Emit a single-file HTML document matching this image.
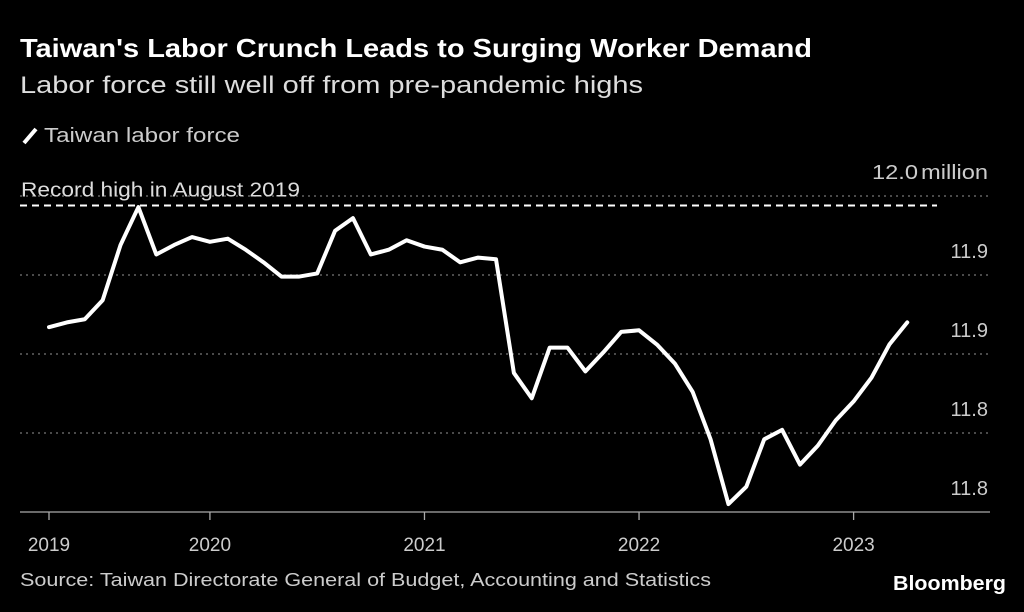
<!DOCTYPE html>
<html><head><meta charset="utf-8"><style>
body{margin:0;background:#000;width:1024px;height:612px;overflow:hidden;font-family:"Liberation Sans",sans-serif;color:#fff}
svg{position:absolute;left:0;top:0}
</style></head><body>
<svg width="1024" height="612">
<text x="20" y="57" font-size="26" font-weight="bold" fill="#fff" textLength="792" lengthAdjust="spacingAndGlyphs">Taiwan's Labor Crunch Leads to Surging Worker Demand</text>
<text x="20" y="93" font-size="24" fill="#ddd" textLength="623" lengthAdjust="spacingAndGlyphs">Labor force still well off from pre-pandemic highs</text>
<line x1="24" y1="143" x2="36" y2="129" stroke="#fff" stroke-width="4"/>
<text x="44" y="142" font-size="20" fill="#ccc" textLength="196" lengthAdjust="spacingAndGlyphs">Taiwan labor force</text>
<g id="grid"></g>
<g id="plot"></g>
<text x="20" y="586" font-size="18" fill="#ccc" textLength="691" lengthAdjust="spacingAndGlyphs">Source: Taiwan Directorate General of Budget, Accounting and Statistics</text>
<text x="893" y="590" font-size="20" font-weight="bold" fill="#fff" textLength="113" lengthAdjust="spacingAndGlyphs">Bloomberg</text>
</svg>
<script>
const values=[11.917,11.920,11.922,11.934,11.969,11.993,11.963,11.969,11.974,11.971,11.973,11.966,11.958,11.949,11.949,11.951,11.978,11.986,11.963,11.966,11.972,11.968,11.966,11.958,11.961,11.960,
11.888,11.872,11.904,11.904,11.889,11.901,11.914,11.915,11.906,11.894,11.876,11.846,11.805,11.816,11.846,11.852,11.830,11.842,11.858,11.870,11.885,11.906,11.920];
const yTickValues=[12.0,11.95,11.9,11.85,11.8];
const yTickLabels=["12.0 million","11.9","11.9","11.8","11.8"];
const xTickIndex=[0,9,21,33,45];
const xTickLabels=["2019","2020","2021","2022","2023"];
const recordValue=11.994;
const NS="http://www.w3.org/2000/svg";
const X=i=>49+i*17.88;
const Y=v=>512-(v-11.8)/0.2*316;
function mk(t,a,p){const e=document.createElementNS(NS,t);for(const k in a)e.setAttribute(k,a[k]);p.appendChild(e);return e;}
const grid=document.getElementById('grid'),plot=document.getElementById('plot');
yTickValues.forEach((v,i)=>{
 if(i<yTickValues.length-1){const l=mk('line',{x1:20,x2:990,y1:Y(v),y2:Y(v),stroke:'#777','stroke-width':1.3,'stroke-dasharray':'2 4'},grid);
 
 }
 const t=mk('text',{x:988,y:Y(v)-17,'font-size':20,fill:'#ccc','text-anchor':'end'},grid);t.textContent=yTickLabels[i];
 if(i===0)t.setAttribute('word-spacing','-3');
 if(i===0){t.setAttribute('textLength','116');t.setAttribute('lengthAdjust','spacingAndGlyphs');}
 
 
});
const ax=mk('line',{x1:20,x2:990,y1:512,y2:512,stroke:'#aaa','stroke-width':1.3},grid);


xTickIndex.forEach((ix,i)=>{
 const tk=mk('line',{x1:X(ix),x2:X(ix),y1:512,y2:520,stroke:'#aaa','stroke-width':1.3},grid);
 
 
 const t=mk('text',{x:X(ix),y:551,'font-size':19,fill:'#ccc','text-anchor':'middle'},grid);t.textContent=xTickLabels[i];
 
 
});
const rl=mk('line',{x1:20,x2:937,y1:Y(recordValue),y2:Y(recordValue),stroke:'#fff','stroke-width':2,'stroke-dasharray':'7 5'},plot);


const rt=mk('text',{x:21,y:Y(recordValue)-9,'font-size':20,fill:'#ddd',textLength:279,lengthAdjust:'spacingAndGlyphs'},plot);rt.textContent='Record high in August 2019';


const line=mk('polyline',{points:values.map((v,i)=>X(i)+','+Y(v)).join(' '),fill:'none',stroke:'#fff','stroke-width':4,'stroke-linejoin':'round','stroke-linecap':'round'},plot);


</script>
</body></html>
